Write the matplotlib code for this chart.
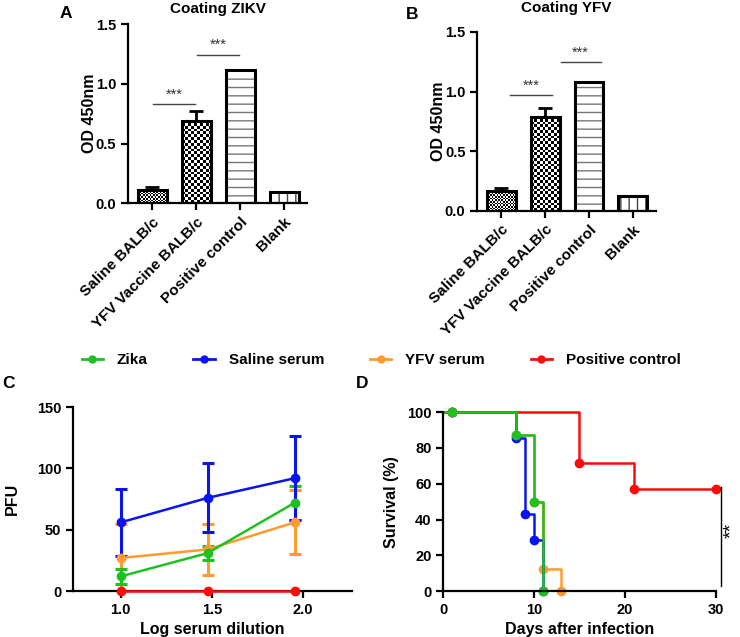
import numpy as np
import matplotlib
matplotlib.use("Agg")
import matplotlib.pyplot as plt
from matplotlib.lines import Line2D

plt.rcParams['font.family'] = ['Liberation Sans', 'DejaVu Sans']
plt.rcParams['font.weight'] = 'bold'
plt.rcParams['axes.labelweight'] = 'bold'
plt.rcParams['axes.titleweight'] = 'bold'
plt.rcParams['axes.linewidth'] = 1.6
plt.rcParams['hatch.linewidth'] = 1.0

# ---- data ----
groups = ["Saline BALB/c", "YFV Vaccine BALB/c", "Positive control", "Blank"]
od_zikv = [0.11, 0.69, 1.12, 0.09]
od_zikv_err = [0.025, 0.08, 0.0, 0.0]
od_yfv = [0.165, 0.79, 1.08, 0.125]
od_yfv_err = [0.025, 0.075, 0.0, 0.0]

log_dil = [1.0, 1.477, 1.954]
pfu_zika = [12, 31, 72]
pfu_zika_err = [6, 6, 14]
pfu_saline = [56, 76, 92]
pfu_saline_err = [27, 28, 34]
pfu_yfv = [27, 34, 56]
pfu_yfv_err = [28, 21, 26]
pfu_pos = [0, 0, 0]

days_zika = [0, 1, 8, 10, 11]
surv_zika = [100, 100, 87.5, 50, 0]
days_saline = [0, 1, 8, 9, 10, 11]
surv_saline = [100, 100, 85.7, 42.9, 28.6, 0]
days_yfv = [0, 1, 8, 10, 11, 13]
surv_yfv = [100, 100, 87.5, 50, 12.5, 0]
days_pos = [0, 1, 15, 21, 30]
surv_pos = [100, 100, 71.4, 57.1, 57.1]

GREEN = '#1fc01f'
BLUE = '#0a14f0'
ORANGE = '#ff9a2e'
RED = '#ff0a0a'

fig = plt.figure(figsize=(7.4, 6.37), dpi=100)


def checker(ax, bar, sq_px, px_x, px_y):
    x0, w, h = bar.get_x(), bar.get_width(), bar.get_height()
    nx = max(1, int(round(w * px_x / sq_px)))
    ny = max(1, int(round(h * px_y / sq_px)))
    img = np.indices((ny, nx)).sum(0) % 2
    im = ax.imshow(img, cmap='gray_r', extent=[x0, x0 + w, 0, h], aspect='auto',
                   interpolation='nearest', zorder=1, origin='lower')
    im.set_clip_path(bar)


def bar_panel(rect, vals, errs, title, title_pad, letter, letter_pos, sig_lines):
    ax = fig.add_axes(rect)
    x = np.arange(len(vals))
    w = 0.66
    px_x = rect[2] * 740 / 4.07
    px_y = rect[3] * 637 / 1.5
    ax.errorbar(x[:2], vals[:2], yerr=[[0, 0], errs[:2]], fmt='none', ecolor='black',
                elinewidth=2, capsize=5, capthick=2, zorder=0)
    bars = ax.bar(x, vals, w, facecolor='white', edgecolor='black', linewidth=2.2, zorder=3)
    checker(ax, bars[0], 1.6, px_x, px_y)
    checker(ax, bars[1], 2.8, px_x, px_y)
    ax.bar(x[2], vals[2], w, facecolor='white', edgecolor='#777777', hatch='--', linewidth=0, zorder=2)
    ax.bar(x[3], vals[3], w, facecolor='white', edgecolor='#444444', hatch='||', linewidth=0, zorder=2)
    for b in bars:
        b.set_facecolor('none')
    for x0, x1, y in sig_lines:
        ax.plot([x0, x1], [y, y], color='#444444', lw=1)
        ax.text((x0 + x1) / 2, y + 0.02, '***', ha='center', va='bottom', fontsize=10.5,
                fontweight='normal', color='#333333')
    ax.set_xlim(-0.55, 3.52)
    ax.set_ylim(0, 1.5)
    ax.set_yticks([0, 0.5, 1.0, 1.5])
    ax.set_yticklabels(['0.0', '0.5', '1.0', '1.5'])
    ax.set_xticks(x)
    ax.set_xticklabels(groups, rotation=45, ha='right', rotation_mode='anchor')
    ax.tick_params(labelsize=10.5, width=1.6, length=5)
    ax.tick_params(axis='x', labelsize=11)
    ax.set_ylabel('OD 450nm', fontsize=11.5, labelpad=-1)
    ax.set_title(title, fontsize=11, pad=title_pad)
    for s in ['top', 'right']:
        ax.spines[s].set_visible(False)
    ax.text(letter_pos[0], letter_pos[1], letter, transform=ax.transAxes, fontsize=12.5, va='top')
    return ax


axA = bar_panel([0.173, 0.681, 0.242, 0.281], od_zikv, od_zikv_err, 'Coating ZIKV', 8, 'A',
                (-0.38, 1.1), [(0.02, 0.97, 0.83), (1.02, 1.97, 1.245)])
axB = bar_panel([0.645, 0.669, 0.241, 0.281], od_yfv, od_yfv_err, 'Coating YFV', 14, 'B',
                (-0.40, 1.14), [(0.2, 1.15, 0.97), (1.35, 2.27, 1.25)])

# ---- panel C ----
axC = fig.add_axes([0.099, 0.072, 0.377, 0.289])
for yv, ye, c in [(pfu_yfv, pfu_yfv_err, ORANGE), (pfu_zika, pfu_zika_err, GREEN),
                  (pfu_saline, pfu_saline_err, BLUE)]:
    axC.errorbar(log_dil, yv, yerr=ye, color=c, lw=1.8, marker='o', ms=6, elinewidth=2.2,
                 capsize=4, capthick=2.2)
axC.plot(log_dil, pfu_pos, color=RED, lw=1.8, marker='o', ms=6, clip_on=False, zorder=5)
axC.set_xlim(0.74, 2.27)
axC.set_ylim(0, 150)
axC.set_xticks([1.0, 1.5, 2.0])
axC.set_xticklabels(['1.0', '1.5', '2.0'])
axC.set_yticks([0, 50, 100, 150])
axC.tick_params(labelsize=10.5, width=1.6, length=5)
axC.set_xlabel('Log serum dilution', fontsize=11.5)
axC.set_ylabel('PFU', fontsize=11.5, labelpad=12)
for s in ['top', 'right']:
    axC.spines[s].set_visible(False)
axC.text(-0.255, 1.17, 'C', transform=axC.transAxes, fontsize=12.5, va='top')

# ---- panel D ----
axD = fig.add_axes([0.599, 0.072, 0.368, 0.281])
for d, s, c in [(days_yfv, surv_yfv, ORANGE), (days_saline, surv_saline, BLUE),
                (days_pos, surv_pos, RED), (days_zika, surv_zika, GREEN)]:
    axD.step(d, s, where='post', color=c, lw=1.8, clip_on=False)
    axD.plot(d[1:], s[1:], 'o', color=c, ms=6, clip_on=False)
axD.plot([30.55, 30.55], [58, 3], color='black', lw=1, clip_on=False)
axD.text(31.8, 34, '**', rotation=90, ha='center', va='center', fontsize=14,
         fontweight='normal')
axD.set_xlim(0, 30)
axD.set_ylim(0, 100)
axD.set_xticks([0, 10, 20, 30])
axD.set_yticks([0, 20, 40, 60, 80, 100])
axD.tick_params(labelsize=10.5, width=1.6, length=5)
axD.set_xlabel('Days after infection', fontsize=11.5)
axD.set_ylabel('Survival (%)', fontsize=11.5, labelpad=6)
for s in ['top', 'right']:
    axD.spines[s].set_visible(False)
axD.text(-0.32, 1.2, 'D', transform=axD.transAxes, fontsize=12.5, va='top')

# ---- legend ----
handles = [Line2D([], [], color=c, marker='o', ms=5, lw=2) for c in [GREEN, BLUE, ORANGE, RED]]
fig.legend(handles, ['Zika', 'Saline serum', 'YFV serum', 'Positive control'], ncol=4,
           loc='center', bbox_to_anchor=(0.515, 0.435), frameon=False, fontsize=11,
           handlelength=1.4, columnspacing=3.0, handletextpad=0.9)

fig.savefig('out.png', dpi=100)
